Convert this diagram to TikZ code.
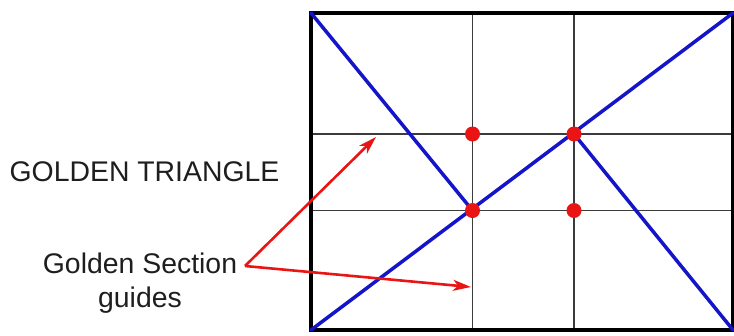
\documentclass[tikz,border=0pt]{standalone}
\usepackage{fontspec}
\setmainfont{Liberation Sans}
\usetikzlibrary{arrows.meta}
\definecolor{lineblue}{RGB}{20,20,200}
\definecolor{guidered}{RGB}{235,20,20}
\definecolor{gridgray}{RGB}{60,60,60}
\definecolor{txt}{RGB}{30,30,30}
\begin{document}
\begin{tikzpicture}[x=1pt,y=-1pt,
  frame/.style={draw=black,line width=3.5pt},
  gridline/.style={draw=gridgray,line width=1.8pt},
  diag/.style={draw=lineblue,line width=3.5pt,line cap=round},
  guide/.style={draw=guidered,line width=2.6pt,-{Stealth[length=18pt,width=11pt,inset=5pt]}},
  dot/.style={circle,fill=guidered,inner sep=0pt,minimum size=15pt},
  lbltext/.style={text=txt,font=\fontsize{28.4}{34}\selectfont,inner sep=0pt,align=center}]
\useasboundingbox (0,0) rectangle (734,335);
% corners
\coordinate (TL) at (311,13);
\coordinate (TR) at (733,13);
\coordinate (BL) at (311,330);
\coordinate (BR) at (733,330);
% golden section guide ends
\coordinate (V1t) at (472.5,13);
\coordinate (V1b) at (472.5,330);
\coordinate (V2t) at (574,13);
\coordinate (V2b) at (574,330);
\coordinate (H1l) at (311,134);
\coordinate (H1r) at (733,134);
\coordinate (H2l) at (311,210.5);
\coordinate (H2r) at (733,210.5);
% intersection points
\coordinate (p11) at (472.5,134);
\coordinate (p21) at (574,134);
\coordinate (p12) at (472.5,210.5);
\coordinate (p22) at (574,210.5);
% guide lines
\draw[gridline] (V1t) -- (V1b);
\draw[gridline] (V2t) -- (V2b);
\draw[gridline] (H1l) -- (H1r);
\draw[gridline] (H2l) -- (H2r);
% frame
\draw[frame] (TL) rectangle (BR);
% blue triangle lines
\draw[diag] (BL) -- (TR);
\draw[diag] (TL) -- (p12);
\draw[diag] (BR) -- (p21);
% intersection dots
\node[dot] (d11) at (p11) {};
\node[dot] (d21) at (p21) {};
\node[dot] (d12) at (p12) {};
\node[dot] (d22) at (p22) {};
% texts
\node[lbltext,anchor=base] (title) at (144.5,181) {GOLDEN TRIANGLE};
\node[lbltext,anchor=base] (guides) at (140,307) {Golden Section\\guides};
% arrows
\coordinate (src) at (245,266);
\coordinate (tip1) at (376,137);
\coordinate (tip2) at (471,287);
\draw[guide] (src) -- (tip1);
\draw[guide] (src) -- (tip2);
\end{tikzpicture}
\end{document}
